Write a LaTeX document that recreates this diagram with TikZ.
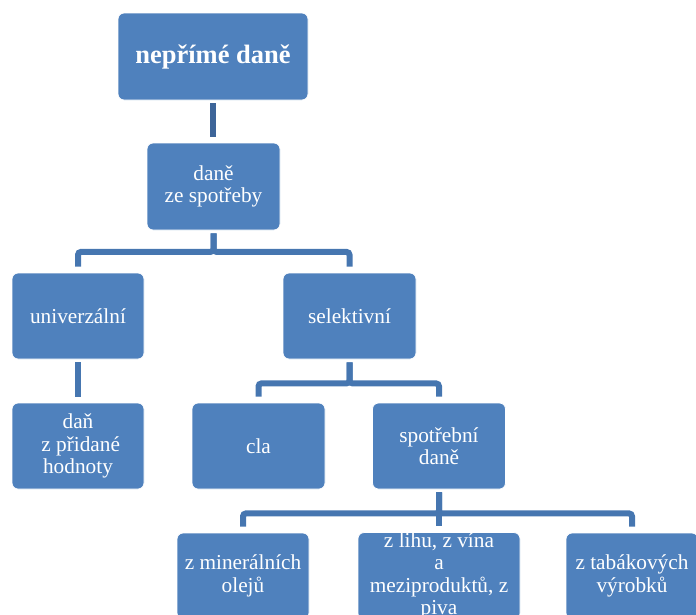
\documentclass[tikz,border=0pt]{standalone}
\usepackage{fontspec}
\setmainfont{Liberation Serif}
\definecolor{boxblue}{HTML}{4F81BD}
\definecolor{linedark}{HTML}{3D6599}
\definecolor{lineblue}{HTML}{4676B0}
\begin{document}
\begin{tikzpicture}[x=1pt,y=-1pt,
  box/.style={draw=white, line width=0.8pt, fill=boxblue, rounded corners=6pt,
    text=white, align=center, inner sep=0pt, minimum width=#1, minimum height=86pt,
    font=\rmfamily\fontsize{21.3}{22.5}\selectfont},
  box/.default=133pt,
  conn/.style={draw=lineblue, line width=6pt, shorten <=3pt, shorten >=6pt, rounded corners=3pt}]
\useasboundingbox (0,0) rectangle (696,614);
\clip (0,0) rectangle (696,614);
\node[box=190pt, minimum height=87pt, font=\rmfamily\fontsize{26.5}{28}\selectfont\bfseries] (top) at (213,56.5) {nepřímé daně};
\node[box, minimum height=87pt] (second) at (213.5,186.5) {daně\\ze spotřeby};
\node[box=132pt] (univ) at (78,316) {univerzální};
\node[box] (selekt) at (349.5,316) {selektivní};
\node[box=132pt] (dan) at (78,446) {daň\\\ z přidané\\hodnoty};
\node[box] (cla) at (258.5,446) {cla};
\node[box] (spot) at (439,446) {spotřební\\daně};
\node[box=132pt] (b1) at (243,576) {z minerálních\\olejů};
\node[box=162pt] (b2) at (439,576) {z lihu, z vína\\a\\meziproduktů, z\\piva};
\node[box=132pt] (b3) at (632,576) {z tabákových\\výrobků};
\draw[conn, draw=linedark] (top.south) -- (top.south |- second.north);
\draw[conn] (second.south) -- ++(0,21.5) -| (univ.north);
\draw[conn] (second.south) -- ++(0,21.5) -| (selekt.north);
\draw[conn] (univ.south) -- (dan.north);
\draw[conn] (selekt.south) -- ++(0,24) -| (cla.north);
\draw[conn] (selekt.south) -- ++(0,24) -| (spot.north);
\draw[conn] (spot.south) -- ++(0,24) -| (b1.north);
\draw[conn] (spot.south) -- (b2.north);
\draw[conn] (spot.south) -- ++(0,24) -| (b3.north);
\end{tikzpicture}
\end{document}
